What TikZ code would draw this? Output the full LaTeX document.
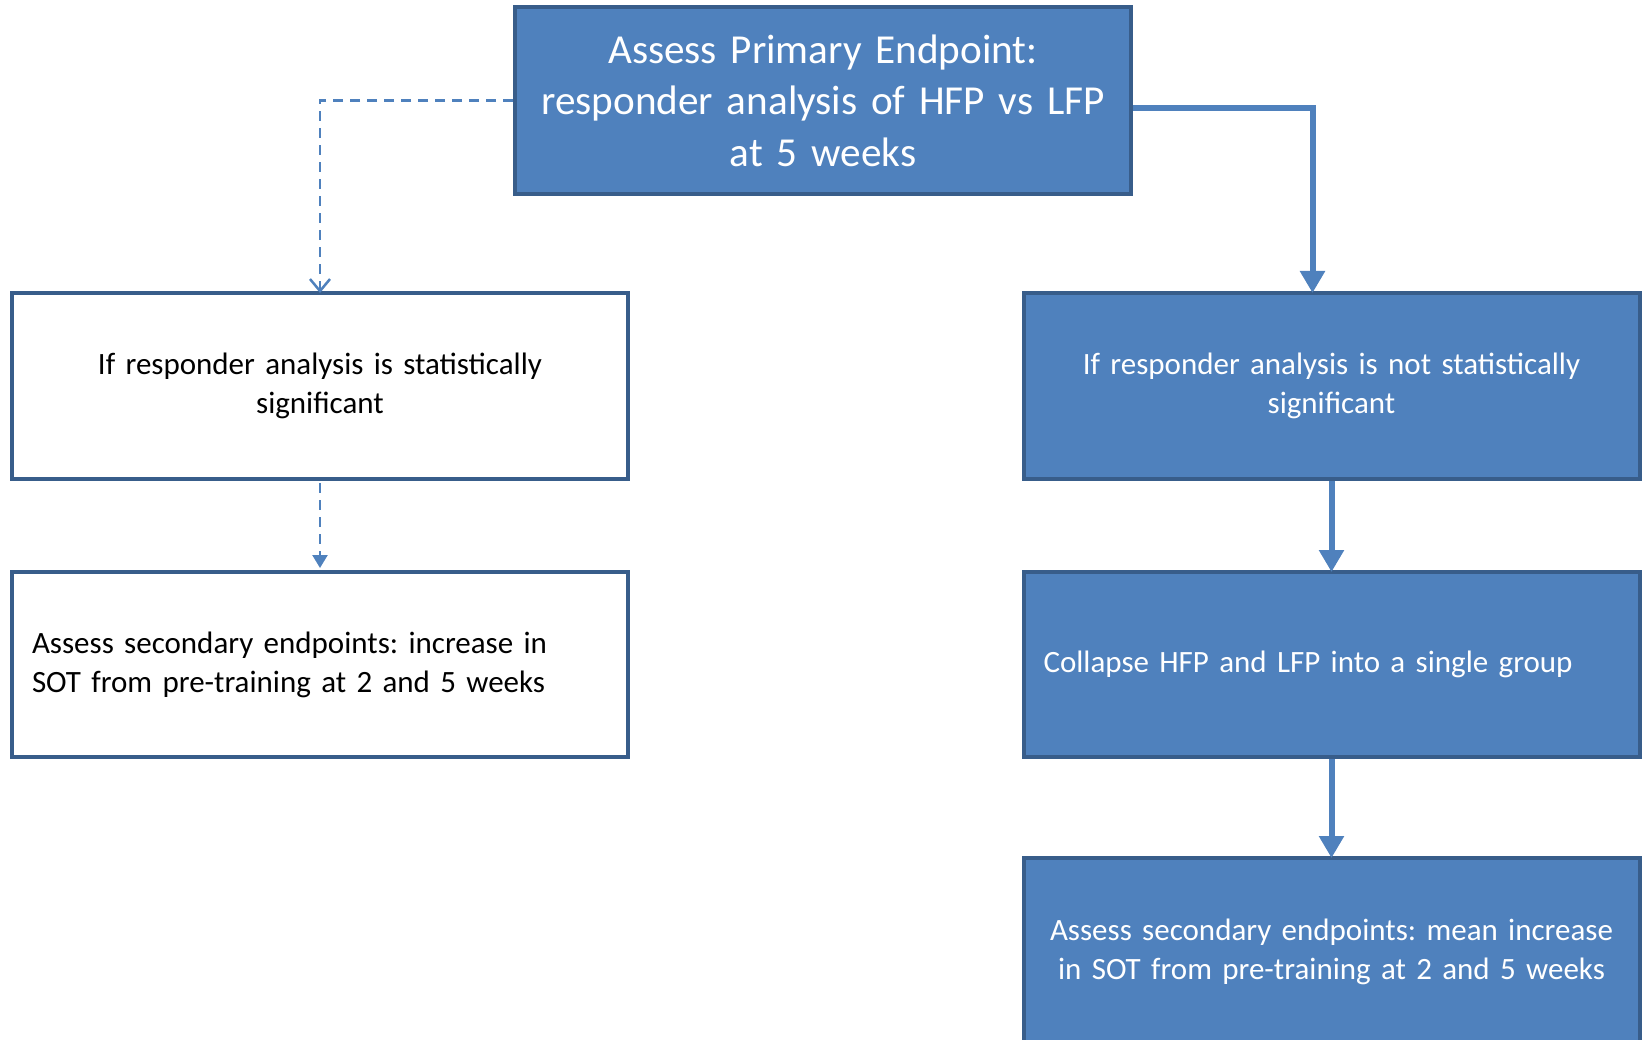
\documentclass[tikz,border=0pt]{standalone}
\usepackage{fontspec}
\setmainfont[WordSpace=0.85]{Carlito}
\usepackage{xcolor}
\usetikzlibrary{arrows.meta}

\definecolor{boxblue}{HTML}{4F81BD}
\definecolor{boxedge}{HTML}{385D8A}

\tikzset{
  bluebox/.style={draw=boxedge, line width=4pt, fill=boxblue, text=white,
    minimum width=616pt, minimum height=186pt, inner sep=0pt},
  whitebox/.style={bluebox, fill=white, text=black},
  bigtext/.style={font=\fontsize{41.2}{51.4}\selectfont, text width=580pt, align=center},
  smalltext/.style={font=\fontsize{31}{38.8}\selectfont, text width=576pt, align=center},
  lefttext/.style={smalltext, align=left},
  solidarrow/.style={draw=boxblue, line width=6pt, -{Triangle[length=22pt,width=24pt]}},
  dashline/.style={draw=boxblue, line width=2.5pt, dashed, dash pattern=on 10pt off 7pt},
  dasharrow/.style={dashline, -{Straight Barb[length=12pt,width=20pt,line width=2.5pt]}},
  dashtip/.style={dashline, -{Triangle[length=13pt,width=15pt]}}
}

\begin{document}
\frenchspacing
\begin{tikzpicture}[x=1pt,y=-1pt]
  \useasboundingbox (0,0) rectangle (1644,1040);
  % top box
  \node[bluebox, bigtext, minimum height=187pt] (primary) at (823,100.5)
    {Assess Primary Endpoint:\\responder analysis of HFP vs LFP\\at 5 weeks};
  % left branch
  \node[whitebox, smalltext] (sig) at (320,386)
    {If responder analysis is statistically\\significant};
  \node[whitebox, lefttext, minimum height=185pt] (secsig) at (320,664.5)
    {Assess secondary endpoints: increase in\\SOT from pre-training at 2 and 5 weeks};
  % right branch
  \node[bluebox, smalltext] (notsig) at (1331.5,386)
    {If responder analysis is not statistically\\significant};
  \node[bluebox, lefttext, minimum height=185pt] (collapse) at (1331.5,664.5)
    {Collapse HFP and LFP into a single group};
  \node[bluebox, smalltext, minimum height=188pt] (secnot) at (1331.5,952)
    {Assess secondary endpoints: mean increase\\in SOT from pre-training at 2 and 5 weeks};
  % connectors
  \draw[dasharrow] (primary.west) -| ([yshift=-2pt]sig.north);
  \draw[dashtip] ([yshift=-2pt]sig.south) -- ([yshift=2pt]secsig.north);
  \draw[solidarrow] ([yshift=-8pt]primary.east) -| ([xshift=-19pt,yshift=-2pt]notsig.north);
  \draw[solidarrow] (notsig.south) -- ([yshift=-2pt]collapse.north);
  \draw[solidarrow] (collapse.south) -- ([yshift=-2pt]secnot.north);
\end{tikzpicture}
\end{document}
